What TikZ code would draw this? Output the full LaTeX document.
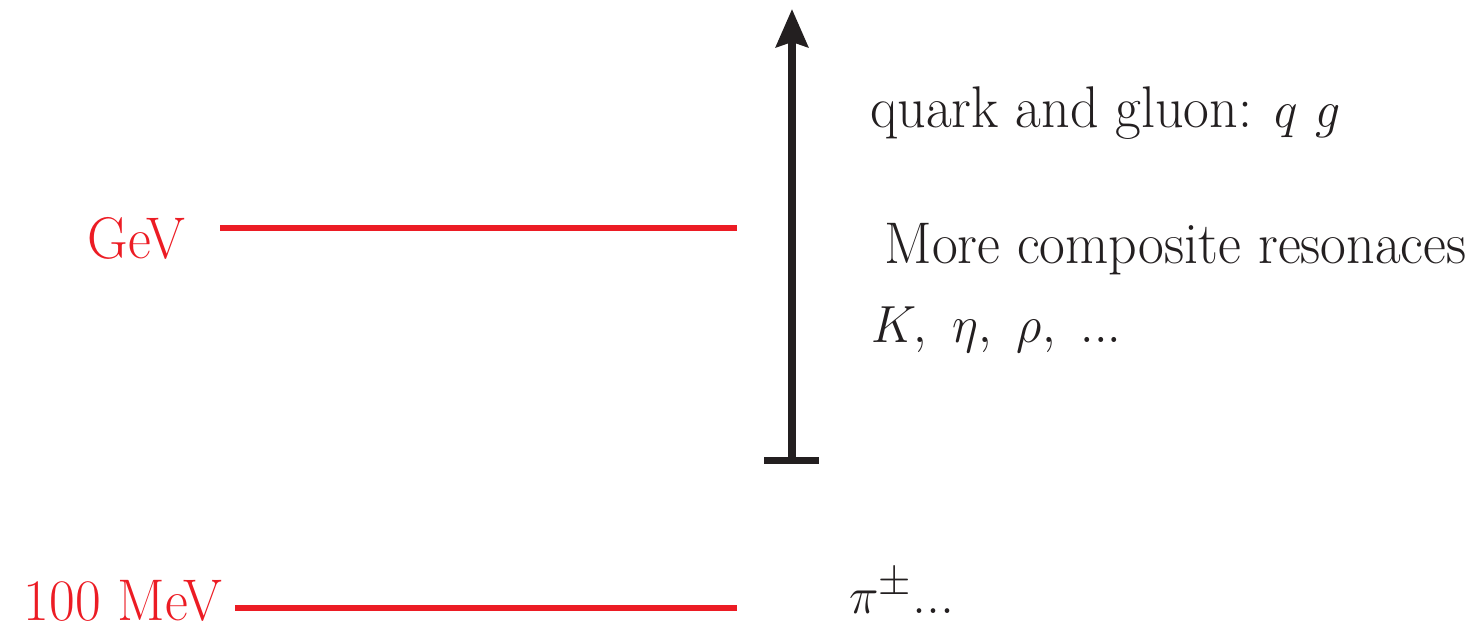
\documentclass[tikz,border=0pt]{standalone}
\usetikzlibrary{arrows.meta, positioning}
\definecolor{lvlRed}{HTML}{EC1C24}
\definecolor{inkBlack}{HTML}{231F20}
\tikzset{
  levelline/.style  = {lvlRed, line width=3pt},
  scalearrow/.style = {-{Stealth[length=19pt, width=16pt, inset=2.5pt]},
                       inkBlack, line width=3.8pt},
  scalebar/.style   = {inkBlack, line width=3.5pt},
  lvllbl/.style     = {lvlRed, font=\fontsize{28}{32}\selectfont,
                       inner sep=0pt, yscale=1.05},
  partlbl/.style    = {inkBlack, font=\fontsize{28}{32}\selectfont,
                       inner sep=0pt, anchor=base west, yscale=1.05},
}

\begin{document}
\begin{tikzpicture}[x=0.5pt, y=-0.5pt]
\useasboundingbox (0,0) rectangle (1479,628);

% ---- energy levels ---------------------------------------------------------
\coordinate (gevL) at (220,228);  \coordinate (gevR) at (737,228);
\coordinate (mevL) at (235,608);  \coordinate (mevR) at (737,608);
\draw[levelline] (gevL) -- (gevR);
\draw[levelline] (mevL) -- (mevR);
\node[lvllbl, anchor=base east] (gev) at (186,258) {GeV};
\node[lvllbl, anchor=base east] (mev) at (223,620) {100 MeV};

% ---- energy arrow ------------------------------------------------------------
\coordinate (barL) at (764,460);  \coordinate (barR) at (819,460);
\coordinate (arrBot) at (792,460); \coordinate (arrTop) at (792,9);
\draw[scalebar] (barL) -- (barR);
\draw[scalearrow] (arrBot) -- (arrTop);

% ---- particle content ----------------------------------------------------------
\node[partlbl] (quark) at (870,127) {quark and gluon: $q$ $g$};
\node[partlbl] (reso)  at (884,263) {More composite resonaces};
\node[partlbl] (kaon)  at (871,342) {$K,\ \eta,\ \rho,\ ...$};
\node[partlbl] (pion)  at (849,613) {$\pi^{\pm}$...};

\end{tikzpicture}
\end{document}
